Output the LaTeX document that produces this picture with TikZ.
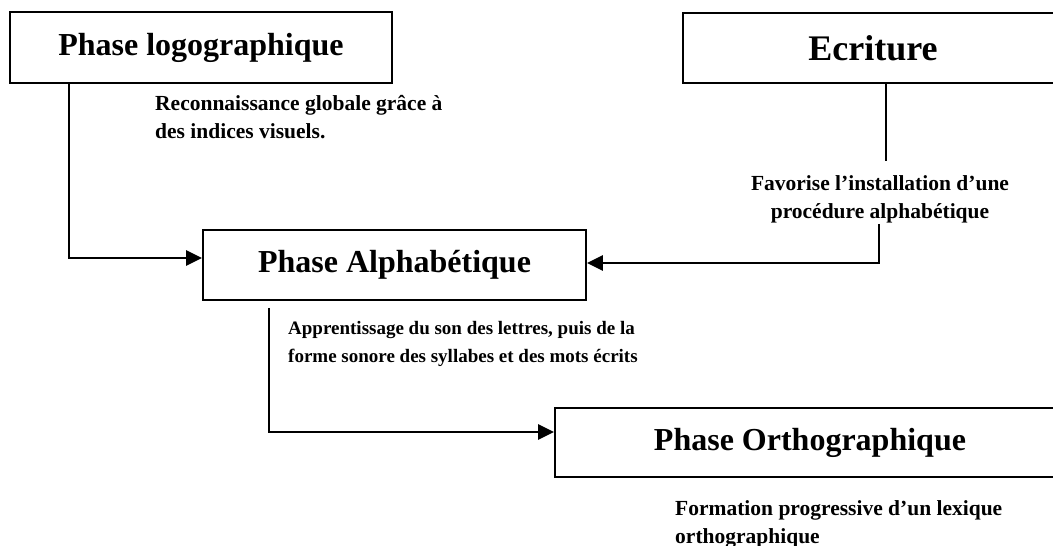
\documentclass[tikz,border=0pt]{standalone}
\usepackage{fontspec}
\setmainfont{Liberation Serif}
\usetikzlibrary{arrows.meta}
\begin{document}
\begin{tikzpicture}[x=1pt,y=-1pt,
  phasebox/.style={draw,line width=1.8pt,inner sep=0pt,anchor=center,
    font=\bfseries\fontsize{32}{38}\selectfont},
  note/.style={inner sep=0pt,anchor=north west,align=left,
    font=\bfseries\fontsize{21.5}{28}\selectfont},
  link/.style={line width=2.6pt},
  arrowlink/.style={link,-{Triangle[length=16pt,width=15pt]}}]
\useasboundingbox (0,0) rectangle (1053,546);
\clip (0,0) rectangle (1053,546);

% the four stages
\node[phasebox,minimum width=382pt,minimum height=71pt] (logo) at (201,47.5) {Phase logographique};
\node[phasebox,minimum width=380pt,minimum height=70pt,font=\bfseries\fontsize{36}{42}\selectfont] (ecr) at (873,48) {Ecriture};
\node[phasebox,minimum width=383pt,minimum height=70pt] (alpha) at (394.5,265) {Phase Alphabétique};
\node[phasebox,minimum width=510pt,minimum height=69pt] (ortho) at (810,442.5) {Phase Orthographique};

% explanatory notes
\node[note] (nlogo) at (155,95) {Reconnaissance globale grâce à\\des indices visuels.};
\node[note,anchor=north,align=center] (necr) at (880,175) {Favorise l’installation d’une\\procédure alphabétique};
\node[note,font=\bfseries\fontsize{19}{28}\selectfont] (nalpha) at (288,321) {Apprentissage du son des lettres, puis de la\\forme sonore des syllabes et des mots écrits};
\node[note] (northo) at (675,500) {Formation progressive d’un lexique\\orthographique};

% connectors
\draw[arrowlink] ([xshift=60pt]logo.south west) |- ([yshift=7pt]alpha.west);
\coordinate (ecrend) at ([xshift=13pt,yshift=-77pt]ecr.south);
\draw[link] ([xshift=13pt]ecr.south) -- (ecrend);
\coordinate (stub) at ([xshift=6pt,yshift=-140pt]ecr.south);
\draw[arrowlink] (stub) |- ([yshift=2pt]alpha.east);
\coordinate (alphastart) at ([xshift=67pt,yshift=-7pt]alpha.south west);
\draw[arrowlink] (alphastart) |- ([yshift=10.5pt]ortho.west);
\end{tikzpicture}
\end{document}
